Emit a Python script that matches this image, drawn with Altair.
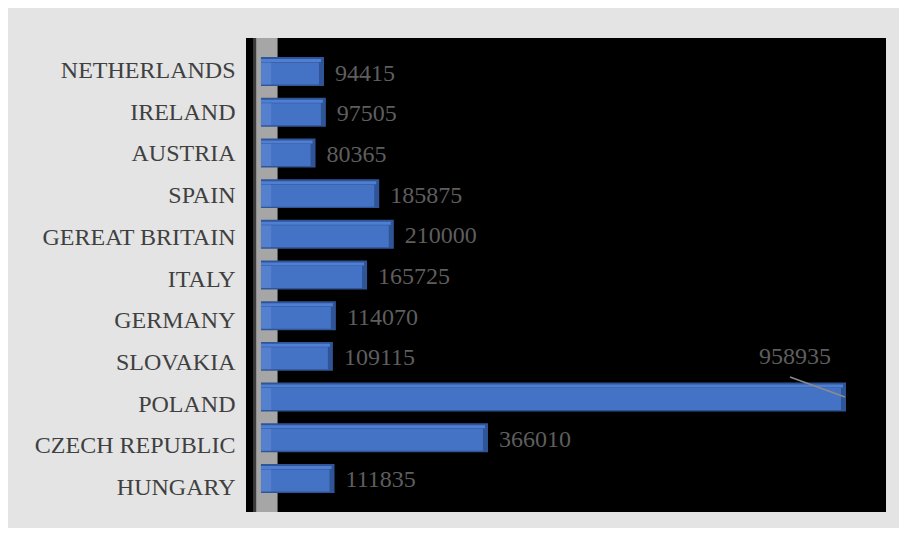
import altair as alt
import pandas as pd

countries = ["NETHERLANDS", "IRELAND", "AUSTRIA", "SPAIN", "GEREAT BRITAIN", "ITALY",
             "GERMANY", "SLOVAKIA", "POLAND", "CZECH REPUBLIC", "HUNGARY"]
values = [94415, 97505, 80365, 185875, 210000, 165725, 114070, 109115, 958935, 366010, 111835]
callout_country = "POLAND"

df = pd.DataFrame({"country": countries, "value": values})
wall = pd.DataFrame({"edge0": [-23000], "edge1": [-18000], "wall1": [17500]})

BASE = -10000
xs = alt.Scale(domain=[-34780, 1025170], nice=False, zero=False)
ys_bar = alt.Scale(domain=countries, paddingInner=0.29, paddingOuter=0.47)
ys_lab = alt.Scale(type="point", domain=countries, padding=0.68)

y_axis = alt.Y("country:N", scale=ys_lab,
               axis=alt.Axis(title=None, domain=False, ticks=False, labelPadding=11,
                             labelFont="Liberation Serif", labelFontSize=24,
                             labelColor="#404040", grid=False, labelLimit=400,
                             labelOffset=4))
y_bar = alt.Y("country:N", scale=ys_bar, axis=None)

axis_layer = alt.Chart(df).mark_point(opacity=0).encode(
    x=alt.X("value:Q", scale=xs, axis=None), y=y_axis)

wall_line = alt.Chart(wall).mark_rect(color="#3c3c3c").encode(
    x=alt.X("edge0:Q", scale=xs, axis=None), x2="edge1:Q")
wall_face = alt.Chart(wall).mark_rect(color="#a6a6a6").encode(
    x=alt.X("edge1:Q", scale=xs, axis=None), x2="wall1:Q")

base = alt.Chart(df).transform_calculate(base=str(BASE), hl=str(BASE + 17000))

back = base.mark_bar(color="#2f5597").encode(
    x=alt.X("value:Q", scale=xs, axis=None), x2="base:Q", y=y_bar)
face = base.mark_bar(color="#4472c4", size=22, yOffset=2, xOffset=-5).encode(
    x=alt.X("value:Q", scale=xs, axis=None), x2="base:Q", y=y_bar)
topface = base.mark_bar(color="#4f7fd2", size=3, yOffset=-11, xOffset=-3).encode(
    x=alt.X("value:Q", scale=xs, axis=None), x2="base:Q", y=y_bar)
highlight = base.mark_bar(color="#6a92da", size=22, yOffset=2, opacity=0.45).encode(
    x=alt.X("hl:Q", scale=xs, axis=None), x2="base:Q", y=y_bar)

labels = alt.Chart(df).transform_filter(
    alt.datum.country != callout_country).mark_text(
    align="left", baseline="middle", dx=11, dy=2, font="Liberation Serif",
    fontSize=24, color="#5e5e5e").encode(
    x=alt.X("value:Q", scale=xs, axis=None), y=y_bar, text="value:Q")

callout = alt.Chart(df).transform_filter(
    alt.datum.country == callout_country).mark_text(
    align="center", baseline="middle", dx=-51, dy=-40, font="Liberation Serif",
    fontSize=24, color="#5e5e5e").encode(
    x=alt.X("value:Q", scale=xs, axis=None), y=y_bar, text="value:Q")

leader = alt.Chart(df).transform_filter(
    alt.datum.country == callout_country).mark_rule(
    color="#8c8c8c", strokeWidth=1.5, xOffset=-1, x2Offset=-56, y2Offset=-20).encode(
    x=alt.X("value:Q", scale=xs, axis=None), x2="value:Q", y=y_bar, y2="country:N")

bars = alt.layer(wall_line, wall_face, back, face, topface, highlight, labels, callout, leader)

chart = alt.layer(axis_layer, bars).resolve_scale(y="independent").properties(
    width=640, height=474,
    padding={"left": 238, "top": 30, "right": 13, "bottom": 16},
    autosize=alt.AutoSizeParams(type="none"),
    background="#e4e4e4",
).configure_view(fill="#000000", stroke=None)

chart.save("out.html", embed_options={"renderer": "svg", "actions": False})
